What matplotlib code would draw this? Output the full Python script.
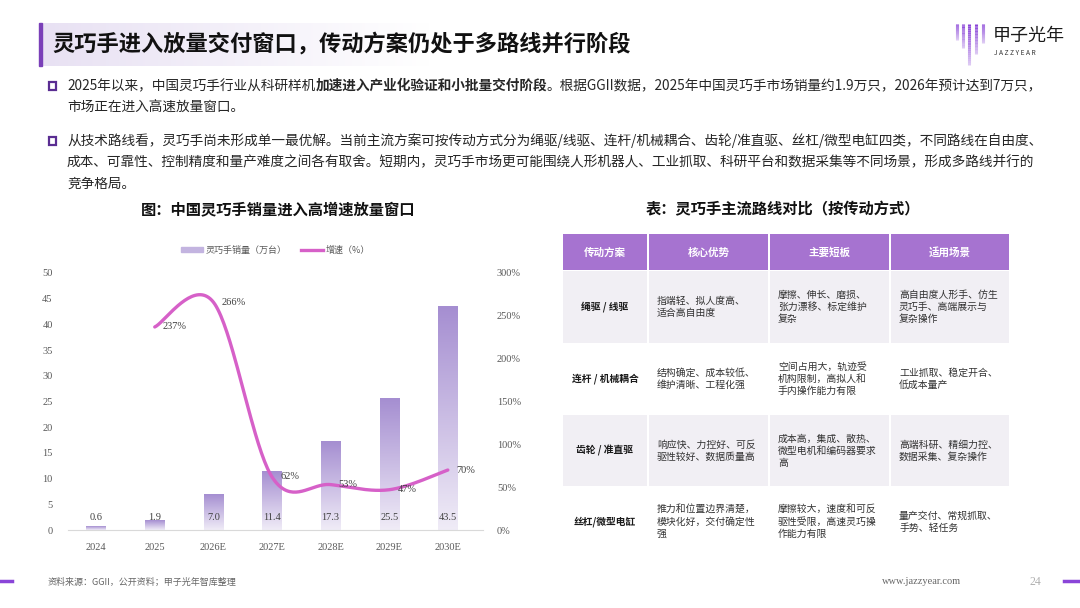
import numpy as np
import matplotlib
matplotlib.use('Agg')
import matplotlib.pyplot as plt
from matplotlib.colors import LinearSegmentedColormap
from matplotlib.patches import Rectangle
from matplotlib.lines import Line2D
from matplotlib.ticker import FuncFormatter

plt.rcParams['font.family'] = ['Noto Sans CJK SC', 'DejaVu Sans']

# ---- data ----
years = ['2024', '2025', '2026E', '2027E', '2028E', '2029E', '2030E']
sales = [0.6, 1.9, 7.0, 11.4, 17.3, 25.5, 43.5]
growth = [237, 266, 62, 53, 47, 70]          # 2025 .. 2030E

page_title = '灵巧手进入放量交付窗口，传动方案仍处于多路线并行阶段'
bullet1_runs = [
    ('2025年以来，中国灵巧手行业从科研样机', 'normal'),
    ('加速进入产业化验证和小批量交付阶段', 'bold'),
    ('。根据GGII数据，2025年中国灵巧手市场销量约1.9万只，2026年预计达到7万只，', 'normal'),
]
bullet1_line2 = '市场正在进入高速放量窗口。'
bullet2_lines = [
    '从技术路线看，灵巧手尚未形成单一最优解。当前主流方案可按传动方式分为绳驱/线驱、连杆/机械耦合、齿轮/准直驱、丝杠/微型电缸四类，不同路线在自由度、',
    '成本、可靠性、控制精度和量产难度之间各有取舍。短期内，灵巧手市场更可能围绕人形机器人、工业抓取、科研平台和数据采集等不同场景，形成多路线并行的',
    '竞争格局。',
]
chart_title = '图：中国灵巧手销量进入高增速放量窗口'
table_title = '表：灵巧手主流路线对比（按传动方式）'
legend_labels = ['灵巧手销量（万台）', '增速（%）']

table_header = ['传动方案', '核心优势', '主要短板', '适用场景']
table_schemes = ['绳驱 / 线驱', '连杆 / 机械耦合', '齿轮 / 准直驱', '丝杠/微型电缸']
table_pros = [
    ['指端轻、拟人度高、', '适合高自由度'],
    ['结构确定、成本较低、', '维护清晰、工程化强'],
    ['响应快、力控好、可反', '驱性较好、数据质量高'],
    ['推力和位置边界清楚，', '模块化好，交付确定性', '强'],
]
table_cons = [
    ['摩擦、伸长、磨损、', '张力漂移、标定维护', '复杂'],
    ['空间占用大，轨迹受', '机构限制，高拟人和', '手内操作能力有限'],
    ['成本高，集成、散热、', '微型电机和编码器要求', '高'],
    ['摩擦较大，速度和可反', '驱性受限，高速灵巧操', '作能力有限'],
]
table_uses = [
    ['高自由度人形手、仿生', '灵巧手、高端展示与', '复杂操作'],
    ['工业抓取、稳定开合、', '低成本量产'],
    ['高端科研、精细力控、', '数据采集、复杂操作'],
    ['量产交付、常规抓取、', '手势、轻任务'],
]
source_text = '资料来源：GGII，公开资料；甲子光年智库整理'
site_text = 'www.jazzyear.com'
page_no = '24'

# ---- colours ----
PURPLE = '#7a3fb8'
LINE_PINK = '#d660c8'
TXT = '#262626'
AX_GREY = '#595959'
SERIF = ['Liberation Serif', 'DejaVu Serif']

fig = plt.figure(figsize=(10.8, 6.08), dpi=100)
bg = fig.add_axes([0, 0, 1, 1])
bg.set_xlim(0, 1080)
bg.set_ylim(608, 0)
bg.axis('off')

# header band with soft gradient
hgrad = np.linspace(0, 1, 256).reshape(1, -1)
hcmap = LinearSegmentedColormap.from_list('h', ['#e8e1f3', '#ffffff'])
bg.imshow(hgrad, extent=(41, 430, 66, 23), cmap=hcmap, aspect='auto', zorder=0)
bg.add_patch(Rectangle((38.5, 23), 3.5, 43, color=PURPLE, zorder=1))
bg.text(52, 44, page_title, fontsize=16, fontweight='bold', color='#111111',
        va='center', ha='left')

# logo
bar_x = [957, 963, 969, 976, 983]
bar_bottom = [40, 48, 65, 54, 43]
for bx, bb in zip(bar_x, bar_bottom):
    n = 20
    ys = np.linspace(24, bb, n + 1)
    for k in range(n):
        a = 1 - k / n
        bg.plot([bx, bx], [ys[k], ys[k + 1]], color='#8a45d8', alpha=0.25 + 0.75 * a,
                lw=2.2, solid_capstyle='butt')
bg.text(993, 36, '甲子光年', fontsize=13, color='#1a1a1a', va='center', ha='left')
bg.text(994, 53, ' '.join('JAZZYEAR'), fontsize=4.8, color='#333333', va='center', ha='left')

# bullets
renderer = fig.canvas.get_renderer()
BODY_FS = 9.85


def draw_runs(x, y, runs):
    for txt, weight in runs:
        t = bg.text(x, y, txt, fontsize=BODY_FS, fontweight=weight, color=TXT,
                    va='center', ha='left')
        x += t.get_window_extent(renderer=renderer).width


for by in (86, 141):
    bg.add_patch(Rectangle((48.5, by - 4), 7.5, 7.5, fill=False, edgecolor='#5a2d92', lw=1.6))

draw_runs(67, 86, bullet1_runs)
bg.text(67, 108, bullet1_line2, fontsize=BODY_FS, color=TXT, va='center', ha='left')
for i, line in enumerate(bullet2_lines):
    bg.text(67, 141 + i * 21.5, line, fontsize=BODY_FS, color=TXT, va='center', ha='left')

# sub-titles
bg.text(278, 209, chart_title, fontsize=11, fontweight='bold', color='#111111',
        ha='center', va='center')
bg.text(783, 209, table_title, fontsize=11, fontweight='bold', color='#111111',
        ha='center', va='center')

# ---- table ----
col_edges = [562, 648, 769, 890, 1010]
row_edges = [234, 271, 343, 415, 486, 557]
TFS = 7.1
LSP = 12.2
for c in range(4):
    x0, x1 = col_edges[c] + 1, col_edges[c + 1] - 1
    bg.add_patch(Rectangle((x0, row_edges[0]), x1 - x0, row_edges[1] - row_edges[0] - 1.5,
                           color='#a673d0', lw=0))
    bg.text((x0 + x1) / 2, (row_edges[0] + row_edges[1]) / 2, table_header[c],
            fontsize=7.6, fontweight='bold', color='white', ha='center', va='center')

body_cols = [table_pros, table_cons, table_uses]
for r in range(4):
    y0, y1 = row_edges[r + 1], row_edges[r + 2]
    yc = (y0 + y1) / 2
    for c in range(4):
        x0, x1 = col_edges[c] + 1, col_edges[c + 1] - 1
        if r % 2 == 0:
            bg.add_patch(Rectangle((x0, y0), x1 - x0, y1 - y0, color='#f1eff4', lw=0))
    bg.text((col_edges[0] + col_edges[1]) / 2, yc, table_schemes[r], fontsize=7.0,
            fontweight='bold', color='#1a1a1a', ha='center', va='center')
    for c, col in enumerate(body_cols, start=1):
        lines = col[r]
        start = yc - (len(lines) - 1) * LSP / 2
        for k, ln in enumerate(lines):
            bg.text(col_edges[c] + 9, start + k * LSP, ln, fontsize=TFS, color='#333333',
                    ha='left', va='center')

# ---- footer ----
bg.plot([0, 12], [581, 581], color='#8a45d8', lw=2.5)
bg.plot([1064, 1080], [581, 581], color='#8a45d8', lw=2.5)
bg.text(48, 582, source_text, fontsize=6.5, color='#666666', va='center', ha='left')
bg.text(882, 582, site_text, fontsize=7.5, color='#666666', va='center', ha='left',
        family=SERIF)
bg.text(1030, 582, page_no, fontsize=8.5, color='#b0b0b0', va='center', ha='left',
        family=SERIF)

# ---- combo chart ----
ax = fig.add_axes([68 / 1080, 1 - 530 / 608, 415 / 1080, 257 / 608])
x = np.arange(len(years))
bar_w = 0.33
bars = ax.bar(x, sales, width=bar_w, color='none', edgecolor='none', zorder=2)
bcmap = LinearSegmentedColormap.from_list('b', ['#f0ecf7', '#a58ed1'])
vgrad = np.linspace(0, 1, 256).reshape(-1, 1)
for rect in bars:
    x0 = rect.get_x()
    ax.imshow(vgrad, extent=(x0, x0 + rect.get_width(), 0, rect.get_height()),
              origin='lower', cmap=bcmap, aspect='auto', zorder=1)
for xi, v in zip(x, sales):
    ax.text(xi, 2.5, f'{v:.1f}', ha='center', va='center', fontsize=7.5, color='#404040',
            family=SERIF, zorder=3)

ax.set_xlim(-0.48, 6.6)
ax.set_ylim(0, 50)
ax.set_yticks(np.arange(0, 51, 5))
ax.set_xticks(x)
ax.set_xticklabels(years, family=SERIF)
ax.set_yticklabels([str(v) for v in range(0, 51, 5)], family=SERIF)
ax.tick_params(axis='both', length=0, labelsize=7.5, colors=AX_GREY)
ax.tick_params(axis='x', pad=9)
ax.tick_params(axis='y', pad=11)
for s in ('top', 'right', 'left'):
    ax.spines[s].set_visible(False)
ax.spines['bottom'].set_color('#d9d9d9')
ax.patch.set_alpha(0)

ax2 = ax.twinx()
gx = x[1:].astype(float)
gy = np.array(growth, dtype=float)


def smooth_curve(xs, ys, n=40):
    # Bezier smoothing through the points, like a spreadsheet "smoothed line"
    pts = np.column_stack([xs, ys])
    out = []
    for i in range(len(pts) - 1):
        p0 = pts[i - 1] if i > 0 else pts[i]
        p1, p2 = pts[i], pts[i + 1]
        p3 = pts[i + 2] if i + 2 < len(pts) else pts[i + 1]
        c1 = p1 + (p2 - p0) / 6
        c2 = p2 - (p3 - p1) / 6
        t = np.linspace(0, 1, n)[:, None]
        seg = ((1 - t) ** 3) * p1 + 3 * ((1 - t) ** 2) * t * c1 + 3 * (1 - t) * t ** 2 * c2 + t ** 3 * p2
        out.append(seg if i == 0 else seg[1:])
    out = np.vstack(out)
    return out[:, 0], out[:, 1]


sx, sy = smooth_curve(gx, gy)
ax2.plot(sx, sy, color=LINE_PINK, lw=2.4, solid_capstyle='round', zorder=4)
for xi, g in zip(gx, growth):
    ax2.text(xi + 0.14, g, f'{g}%', ha='left', va='center', fontsize=7.5, color='#404040',
             family=SERIF, zorder=5)
ax2.set_ylim(0, 300)
ax2.set_yticks(np.arange(0, 301, 50))
ax2.yaxis.set_major_formatter(FuncFormatter(lambda v, p: f'{int(v)}%'))
ax2.tick_params(axis='y', length=0, labelsize=7.5, colors=AX_GREY, pad=10)
for lab in ax2.get_yticklabels():
    lab.set_fontfamily(SERIF)
for s in ax2.spines.values():
    s.set_visible(False)

handles = [Rectangle((0, 0), 1, 1, color='#c3b4e0'),
           Line2D([0], [0], color=LINE_PINK, lw=2.4)]
leg = ax2.legend(handles, legend_labels, loc='lower center', bbox_to_anchor=(0.5, 1.04),
                 ncol=2, frameon=False, fontsize=6.5, handlelength=2.4, handleheight=0.5,
                 columnspacing=1.6, handletextpad=0.3)
for t in leg.get_texts():
    t.set_color(AX_GREY)

fig.savefig('out.png', dpi=100)
